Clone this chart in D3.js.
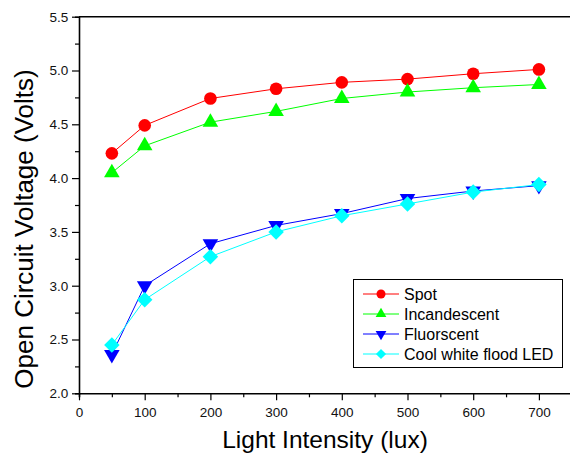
<!DOCTYPE html>
<html><head><meta charset="utf-8">
<script src="https://cdn.jsdelivr.net/npm/d3@7"></script>
<style>body{margin:0;background:#fff}svg{display:block;font-family:"Liberation Sans",Arial,sans-serif}</style>
</head><body><svg id="c" width="570" height="457"></svg>
<script>
const intensity = [50, 100, 200, 300, 400, 500, 600, 700];
const spot = [4.23, 4.49, 4.74, 4.83, 4.89, 4.92, 4.97, 5.01];
const incandescent = [4.05, 4.30, 4.52, 4.62, 4.74, 4.80, 4.84, 4.87];
const fluorescent = [2.36, 3.00, 3.39, 3.56, 3.67, 3.81, 3.88, 3.93];
const coolLED = [2.45, 2.87, 3.27, 3.50, 3.65, 3.76, 3.87, 3.94];
const seriesNames = ["Spot", "Incandescent", "Fluorscent", "Cool white flood LED"];
const xTicks = [0, 100, 200, 300, 400, 500, 600, 700];
const yTicks = [2.0, 2.5, 3.0, 3.5, 4.0, 4.5, 5.0, 5.5];

const series = [
  {name: seriesNames[0], values: spot, color: "#ff0000", sym: d3.symbolCircle, size: 125, lsize: 64, rot: 0},
  {name: seriesNames[1], values: incandescent, color: "#00ff00", sym: d3.symbolTriangle, size: 105, lsize: 50, rot: 0},
  {name: seriesNames[2], values: fluorescent, color: "#0000ff", sym: d3.symbolTriangle, size: 105, lsize: 50, rot: 180},
  {name: seriesNames[3], values: coolLED, color: "#00ffff", sym: d3.symbolSquare, size: 120, lsize: 52, rot: 45}
];

const svg = d3.select("#c");
const x = d3.scaleLinear().domain([0, 800]).range([79, 604.6]);
const y = d3.scaleLinear().domain([2.0, 5.5]).range([393.3, 16.7]);

// axes
const xMinor = d3.range(50, 800, 100);
const yMinor = d3.range(2.25, 5.5, 0.5);
const gx = svg.append("g").attr("transform", `translate(0,${y(2.0)})`);
gx.call(d3.axisBottom(x).tickValues(xTicks).tickSize(7).tickFormat(d3.format("d")));
gx.append("g").call(d3.axisBottom(x).tickValues(xMinor).tickSize(4).tickFormat(""));
const gy = svg.append("g").attr("transform", `translate(${x(0)},0)`);
gy.call(d3.axisLeft(y).tickValues(yTicks).tickSize(7).tickFormat(d3.format(".1f")));
gy.append("g").call(d3.axisLeft(y).tickValues(yMinor).tickSize(4).tickFormat(""));
svg.selectAll(".domain").attr("stroke", "#000").attr("stroke-width", 1.6);
svg.selectAll(".tick line").attr("stroke", "#000").attr("stroke-width", 1.2);
svg.selectAll(".tick text").attr("font-size", 13.5).attr("fill", "#111").attr("font-family", "Liberation Sans, Arial, sans-serif");
gx.selectAll(".tick text").attr("dy", "1.05em");
gy.selectAll(".tick text").attr("dx", "-0.05em");
gx.select("g .domain").remove();
gy.select("g .domain").remove();
// top frame line
svg.append("line").attr("x1", x(0)).attr("x2", 570).attr("y1", y(5.5)).attr("y2", y(5.5))
  .attr("stroke", "#000").attr("stroke-width", 1.6);

// series
const line = d3.line().x((d, i) => x(intensity[i])).y(d => y(d));
series.forEach(s => {
  svg.append("path").datum(s.values).attr("d", line)
    .attr("fill", "none").attr("stroke", s.color).attr("stroke-width", 1);
});
series.forEach(s => {
  svg.append("g").selectAll("path").data(s.values).join("path")
    .attr("d", d3.symbol().type(s.sym).size(s.size))
    .attr("transform", (d, i) => `translate(${x(intensity[i])},${y(d)}) rotate(${s.rot})`)
    .attr("fill", s.color);
});

// legend
const lg = svg.append("g");
lg.append("rect").attr("x", 353.5).attr("y", 279.5).attr("width", 209).attr("height", 88)
  .attr("fill", "#fff").attr("stroke", "#000").attr("stroke-width", 1);
series.forEach((s, i) => {
  const ry = 294 + i * 20;
  lg.append("line").attr("x1", 363).attr("x2", 399).attr("y1", ry).attr("y2", ry)
    .attr("stroke", s.color).attr("stroke-width", 1);
  lg.append("path").attr("d", d3.symbol().type(s.sym).size(s.lsize))
    .attr("transform", `translate(381,${ry}) rotate(${s.rot})`).attr("fill", s.color);
  lg.append("text").attr("x", 404).attr("y", ry + 5.5).attr("font-size", 16).attr("fill", "#000").text(s.name);
});

// titles
svg.append("text").attr("x", 325).attr("y", 448).attr("text-anchor", "middle")
  .attr("font-size", 24.5).attr("fill", "#000").text("Light Intensity (lux)");
svg.append("text").attr("transform", `translate(33,229) rotate(-90)`)
  .attr("text-anchor", "middle").attr("font-size", 26).attr("fill", "#000").text("Open Circuit Voltage (Volts)");
</script></body></html>
